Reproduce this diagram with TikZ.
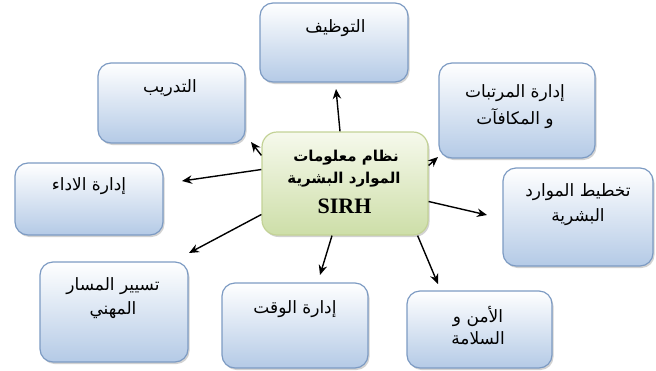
\documentclass[tikz,border=0pt]{standalone}
\usepackage{fontspec}
\setmainfont{Liberation Serif}
\newfontfamily\arabicfont[Script=Arabic]{DejaVu Sans}
\TeXXeTstate=1
\usetikzlibrary{arrows.meta,shadows}
\definecolor{boxborder}{RGB}{125,155,195}
\definecolor{boxbottom}{RGB}{180,202,230}
\definecolor{cborder}{RGB}{195,210,150}
\definecolor{cbottom}{RGB}{205,222,168}
\definecolor{ctop}{RGB}{246,249,236}
\tikzset{
  box/.style={draw=boxborder, line width=1.2pt, rounded corners=13pt,
    top color=white, bottom color=boxbottom,
    drop shadow={shadow xshift=1.5pt, shadow yshift=-2pt, fill=black!35, opacity=0.5},
    inner sep=0pt},
  cbox/.style={draw=cborder, line width=1.2pt, rounded corners=15pt,
    top color=ctop, bottom color=cbottom,
    drop shadow={shadow xshift=1.5pt, shadow yshift=-2pt, fill=black!35, opacity=0.5},
    inner sep=0pt},
  lbl/.style={anchor=base, inner sep=0pt, font=\arabicfont\fontsize{17}{20}\selectfont},
  clbl/.style={anchor=base, inner sep=0pt, font=\arabicfont\bfseries\fontsize{15}{20}\selectfont},
  conn/.style={line width=1.4pt, -{Stealth[length=10pt,width=8.5pt]}}
}
\begin{document}
\begin{tikzpicture}[x=1pt,y=-1pt]
\useasboundingbox (0,0) rectangle (656,370);
% boxes
\node[box, minimum width=148pt, minimum height=79pt] (emp) at (334,42.5) {};
\node[box, minimum width=147pt, minimum height=80pt] (trn) at (171.5,103) {};
\node[box, minimum width=156pt, minimum height=95pt] (sal) at (517,110.5) {};
\node[box, minimum width=148pt, minimum height=72pt] (perf) at (89,199) {};
\node[box, minimum width=150pt, minimum height=98pt] (plan) at (578,217) {};
\node[box, minimum width=148pt, minimum height=100pt] (car) at (114,312) {};
\node[box, minimum width=146pt, minimum height=85pt] (time) at (295,325.5) {};
\node[box, minimum width=145pt, minimum height=77pt] (sec) at (479.5,329.5) {};
\node[cbox, minimum width=166pt, minimum height=103pt] (c) at (345,183.5) {};
% labels (baselines)
\node[lbl] (emp1) at (335.5,32) {\beginR التوظيف\endR};
\node[lbl] (trn1) at (170,92) {\beginR التدريب\endR};
\node[lbl] (sal1) at (515,97) {\beginR إدارة المرتبات\endR};
\node[lbl] (sal2) at (515,124) {\beginR و المكافآت\endR};
\node[lbl] (perf1) at (89,190) {\beginR إدارة الاداء\endR};
\node[lbl] (plan1) at (578,196) {\beginR تخطيط الموارد\endR};
\node[lbl] (plan2) at (578,221) {\beginR البشرية\endR};
\node[lbl] (car1) at (113,290) {\beginR تسيير المسار\endR};
\node[lbl] (car2) at (113,314) {\beginR المهني\endR};
\node[lbl] (time1) at (295,313) {\beginR إدارة الوقت\endR};
\node[lbl] (sec1) at (478,322) {\beginR الأمن  و\endR};
\node[lbl] (sec2) at (478,344) {\beginR السلامة\endR};
\node[clbl] (c1) at (346,161) {\beginR نظام معلومات\endR};
\node[clbl] (c2) at (344,183) {\beginR الموارد البشرية\endR};
\node[anchor=base, inner sep=0pt, font=\rmfamily\bfseries\fontsize{22}{24}\selectfont] (c3) at (344.5,213) {SIRH};
% arrow tips
\coordinate (tEmp) at (336,89);
\coordinate (tTrn) at (251,142);
\coordinate (tSal) at (438,157);
\coordinate (tPerf) at (182,181);
\coordinate (tPlan) at (487,215);
\coordinate (tCar) at (189,253);
\coordinate (tTime) at (320,275);
\coordinate (tSec) at (438,284);
% connectors
\draw[conn] ([xshift=-5pt]c.north) -- (tEmp);
\draw[conn] ([yshift=-24pt]c.north west) -- (tTrn);
\draw[conn] ([yshift=18pt]c.east) -- (tSal);
\draw[conn] ([yshift=14pt]c.west) -- (tPerf);
\draw[conn] ([yshift=-18pt]c.east) -- (tPlan);
\draw[conn] ([yshift=-31pt]c.west) -- (tCar);
\draw[conn] ([xshift=-13pt]c.south) -- (tTime);
\draw[conn] ([xshift=-11pt]c.south east) -- (tSec);
\end{tikzpicture}
\end{document}
